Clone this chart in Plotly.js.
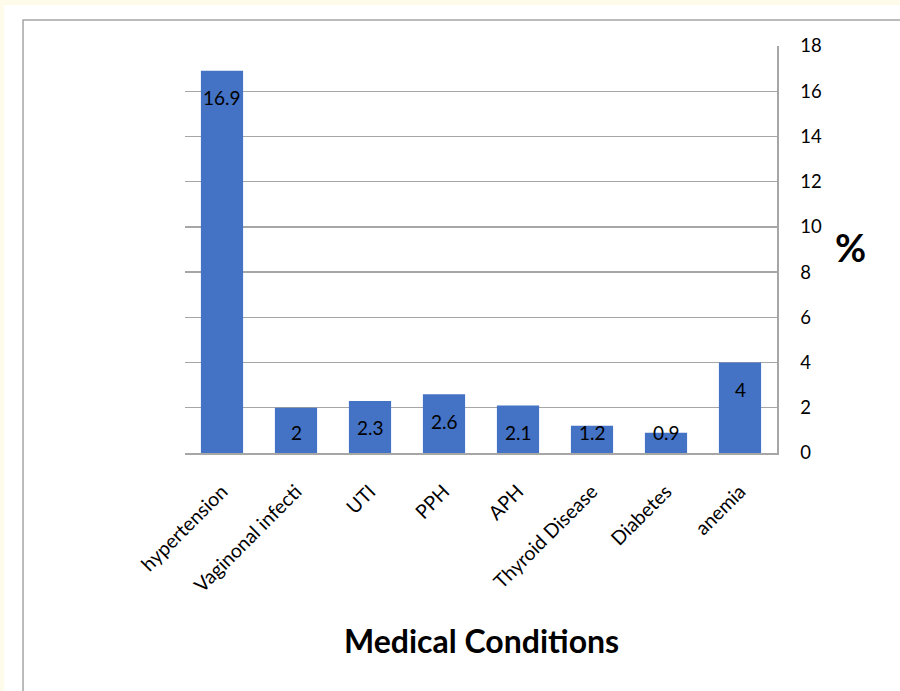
<!DOCTYPE html>
<html><head><meta charset="utf-8">
<script src="https://cdn.plot.ly/plotly-3.0.1.min.js"></script>
<style>html,body{margin:0;padding:0;background:#fffbeb;}</style>
</head><body>
<div id="chart" style="width:900px;height:691px;"></div>
<script>
const categories = ["hypertension","Vaginonal infecti","UTI","PPH","APH","Thyroid Disease","Diabetes","anemia"];
const values = [16.9, 2, 2.3, 2.6, 2.1, 1.2, 0.9, 4];
const yTicks = [0,2,4,6,8,10,12,14,16,18];

const FONT = "Lato, 'Open Sans', sans-serif";
const GRAY = "#a6a6a6";

const trace = {
  type: "bar",
  x: categories,
  y: values,
  marker: {color: "#4472c4", line: {width: 0}},
  width: 0.57,
  hoverinfo: "x+y"
};

const labelAnn = categories.map((c, i) => ({
  x: c, y: Math.max(values[i], 2.1), xref: "x", yref: "y",
  text: String(values[i]), showarrow: false,
  yanchor: "middle", yshift: -27,
  font: {family: FONT, size: 19, color: "#000"}
}));

const layout = {
  width: 900, height: 691,
  margin: {l: 185, r: 123, t: 46, b: 238},
  paper_bgcolor: "rgba(0,0,0,0)",
  plot_bgcolor: "rgba(0,0,0,0)",
  showlegend: false,
  bargap: 0.43,
  xaxis: {
    type: "category",
    showline: true, linecolor: GRAY, linewidth: 1.5,
    showgrid: false, ticks: "", tickangle: -45, ticklabelstandoff: 18,
    tickfont: {family: FONT, size: 19.5, color: "#000"},
    automargin: false
  },
  yaxis: {
    side: "right", range: [0, 18], tickvals: yTicks, ticktext: yTicks.map(String),
    showline: true, linecolor: GRAY, linewidth: 1.5, mirror: false,
    showgrid: true, gridcolor: GRAY, gridwidth: 1.3,
    zeroline: false, ticks: "", ticklabelstandoff: 18,
    tickfont: {family: FONT, size: 18.5, color: "#000"},
    automargin: false
  },
  shapes: [
    {type: "rect", xref: "paper", yref: "paper", x0: -0.3057, x1: 2, y0: -1, y1: 1.1007,
     fillcolor: "#ffffff", line: {width: 0}, layer: "below"},
    {type: "rect", xref: "paper", yref: "paper", x0: -0.2736, x1: 2, y0: -1, y1: 1.0639,
     fillcolor: "rgba(0,0,0,0)", line: {color: GRAY, width: 1.5}, layer: "below"}
  ],
  annotations: labelAnn.concat([
    {xref: "paper", yref: "paper", x: 0.5, y: -0.46, text: "<b>Medical Conditions</b>",
     showarrow: false, xanchor: "center", yanchor: "middle",
     font: {family: FONT, size: 32, color: "#000"}},
    {xref: "paper", yref: "paper", x: 1.1245, y: 0.505, text: "<b>%</b>",
     showarrow: false, xanchor: "center", yanchor: "middle",
     font: {family: FONT, size: 38, color: "#000"}}
  ])
};

Plotly.newPlot("chart", [trace], layout, {displayModeBar: false, staticPlot: true});
</script>
</body></html>
